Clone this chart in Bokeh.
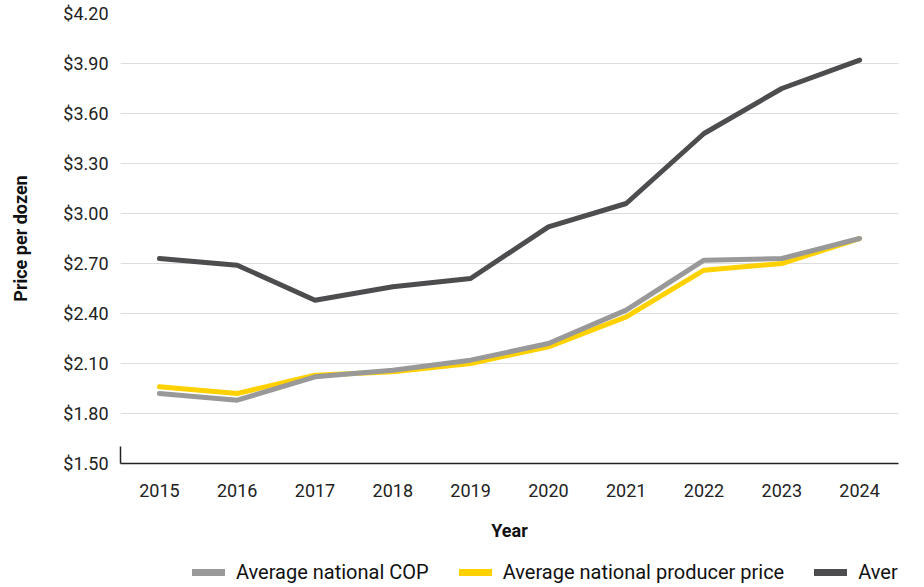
from bokeh.plotting import figure
from bokeh.layouts import column
from bokeh.models import (ColumnDataSource, FactorRange, Range1d, FixedTicker,
                          NumeralTickFormatter, LinearAxis, Legend, LegendItem)
from bokeh.embed import file_html
from bokeh.resources import INLINE

years = ["2015", "2016", "2017", "2018", "2019", "2020", "2021", "2022", "2023", "2024"]
cop = [1.92, 1.88, 2.02, 2.06, 2.12, 2.22, 2.42, 2.72, 2.73, 2.85]
producer = [1.96, 1.92, 2.03, 2.05, 2.10, 2.20, 2.38, 2.66, 2.70, 2.85]
retail = [2.73, 2.69, 2.48, 2.56, 2.61, 2.92, 3.06, 3.48, 3.75, 3.92]
y_ticks = [1.5, 1.8, 2.1, 2.4, 2.7, 3.0, 3.3, 3.6, 3.9, 4.2]

series_names = ["Average national COP", "Average national producer price", "Average retail price"]
colors = ["#999999", "#FFD100", "#4D4D4F"]

FONT = "Roboto"
TXT = "#222222"

src = ColumnDataSource(dict(year=years, cop=cop, producer=producer, retail=retail))

# ---------------- main chart ----------------
p = figure(width=924, height=557, title=None,
           x_range=FactorRange(factors=years, range_padding=0),
           y_range=Range1d(1.5, 4.2), output_backend="svg", toolbar_location=None,
           y_axis_location=None, min_border_left=120, min_border_right=26,
           min_border_top=13, min_border_bottom=94)
p.outline_line_color = None
p.background_fill_color = "white"
p.border_fill_color = "white"

stub = LinearAxis(bounds=(1.5, 1.6), ticker=FixedTicker(ticks=[1.5]),
                  major_label_overrides={1.5: ""},
                  major_tick_out=0, major_tick_in=0, minor_tick_out=0, minor_tick_in=0,
                  major_tick_line_color=None, minor_tick_line_color=None,
                  major_label_standoff=0,
                  axis_line_color="#222222", axis_line_width=1.5)
p.add_layout(stub, "left")

yaxis = LinearAxis(ticker=FixedTicker(ticks=y_ticks),
                   formatter=NumeralTickFormatter(format="$0.00"),
                   axis_line_color=None, major_tick_line_color=None, minor_tick_line_color=None,
                   major_tick_out=0, major_tick_in=0,
                   major_label_standoff=12, axis_label="Price per dozen",
                   axis_label_standoff=29)
yaxis.major_label_text_font = FONT
yaxis.major_label_text_font_size = "18px"
yaxis.major_label_text_color = TXT
yaxis.axis_label_text_font = FONT
yaxis.axis_label_text_font_style = "bold"
yaxis.axis_label_text_font_size = "18px"
yaxis.axis_label_text_color = "#111111"
p.add_layout(yaxis, "left")

p.ygrid.ticker = FixedTicker(ticks=y_ticks[1:])
p.ygrid.grid_line_color = "#DDDDDD"
p.xgrid.grid_line_color = None

xa = p.xaxis[0]
xa.axis_line_color = "#222222"
xa.axis_line_width = 1.5
xa.major_tick_line_color = None
xa.minor_tick_line_color = None
xa.major_tick_out = 0
xa.major_tick_in = 0
xa.major_label_standoff = 20
xa.major_label_text_font = FONT
xa.major_label_text_font_size = "18px"
xa.major_label_text_color = TXT
xa.axis_label = "Year"
xa.axis_label_standoff = 20
xa.axis_label_text_font = FONT
xa.axis_label_text_font_style = "bold"
xa.axis_label_text_font_size = "18px"
xa.axis_label_text_color = "#111111"

lw = 5
p.line("year", "retail", source=src, line_color=colors[2], line_width=lw,
       line_cap="round", line_join="round")
p.line("year", "producer", source=src, line_color=colors[1], line_width=lw,
       line_cap="round", line_join="round")
p.line("year", "cop", source=src, line_color=colors[0], line_width=lw,
       line_cap="round", line_join="round")

# ---------------- legend strip ----------------
lg = figure(width=924, height=30, title=None,
            x_range=FactorRange(factors=years, range_padding=0),
            y_range=Range1d(10, 11), output_backend="svg", toolbar_location=None,
            x_axis_location=None, y_axis_location=None,
            min_border_left=0, min_border_right=0, min_border_top=0, min_border_bottom=0)
lg.outline_line_color = None
lg.xgrid.grid_line_color = None
lg.ygrid.grid_line_color = None
lg.background_fill_color = "white"
lg.border_fill_color = "white"

fields = ["cop", "producer", "retail"]
items = []
for name, f, c in zip(series_names, fields, colors):
    r = lg.line("year", f, source=src, line_color=c, line_width=7, line_cap="round")
    items.append(LegendItem(label=name, renderers=[r]))

legend = Legend(items=items, orientation="horizontal", location=(72, 3),
                glyph_width=33, glyph_height=20, label_standoff=11, spacing=30,
                padding=0, margin=0, border_line_color=None, background_fill_alpha=0,
                label_text_font=FONT, label_text_font_size="20px",
                label_text_color="#111111")
lg.add_layout(legend, "center")

layout = column(p, lg, spacing=0)
open("out.html", "w").write(file_html(layout, INLINE))
